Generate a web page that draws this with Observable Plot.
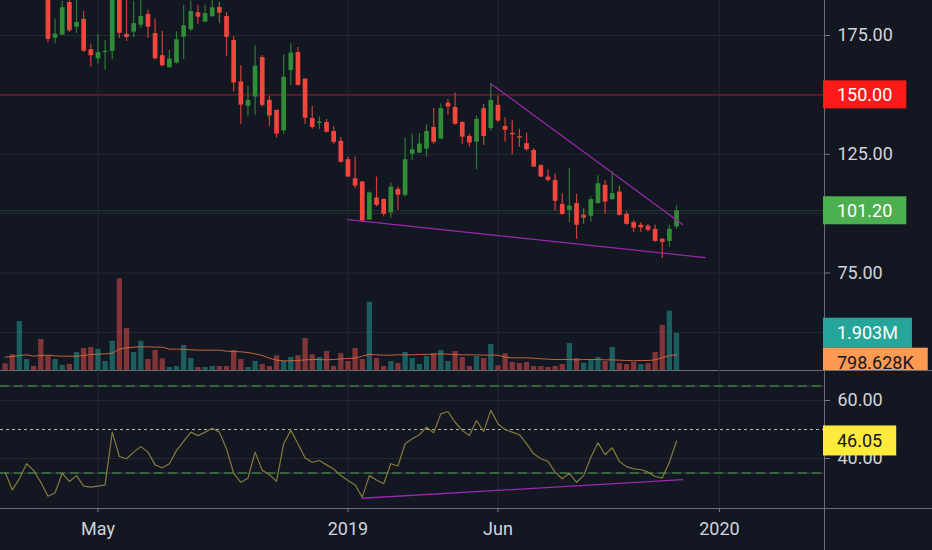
<!DOCTYPE html>
<html><head><meta charset="utf-8">
<script src="https://cdn.jsdelivr.net/npm/d3@7"></script>
<script src="https://cdn.jsdelivr.net/npm/@observablehq/plot@0.6"></script>
<style>
html,body{margin:0;padding:0;background:#131722;}
#chart{position:relative;width:932px;height:550px;background:#131722;overflow:hidden;}
#chart svg{position:absolute;left:0;}
.sep{position:absolute;background:#6a6d78;}
</style></head><body><div id="chart"></div>
<script>
// ---- data (weekly candles, first week 2018-02-05) ----
const firstWeek = "2018-02-05";
const open  = [214,206,198,205,208,203,195,173.9,175.2,188.9,178.5,181.8,169.0,165.2,167.8,168.3,193,175.5,176.4,179.3,183.9,175.8,166.5,161.4,163.4,174.3,177.4,184.6,180.6,182.9,186.8,183.0,172.9,155.4,145.2,149.1,165.7,147.7,143.5,134.8,160.2,167.8,156.6,140.1,138.0,138.4,134.6,130.4,122.7,114.7,113.3,97.3,106.6,106.0,100.3,110.2,107.7,125.0,125.5,127.2,136.3,131.4,146.5,144.7,138.4,132.5,130.1,144.2,135.8,145.6,136.7,133.8,132.4,129.5,126.6,120.2,115.4,114.0,103.9,101.4,104.2,99.3,98.9,104.2,111.9,105.9,109.1,99.7,96.2,95.1,94.7,93.4,89.2,88.3,94.4];
const high  = [218,208,207,211,210,204,197,181.8,189.4,189.6,191,185.1,171.3,175.5,172.9,195,196,190.5,189.4,190,185.6,181.8,176.7,168.7,176.6,187.7,189.4,187.7,187.7,190.5,189.1,184.6,174.6,162.3,153.6,170.7,166.6,149.4,143.5,166.9,171.5,169.9,156.8,145.2,140.7,139.7,136.7,132.1,123.8,123.8,113.5,109.1,115.4,106.2,112.9,111.2,132.0,133.4,133.7,137.5,144.2,146.3,148.1,150.8,138.6,133.4,141.1,146.0,154.7,149.4,140.4,139.3,135.5,133.9,127.4,120.6,118.5,116.8,108.4,118.9,108.1,102.1,107.0,116.0,114.0,117.5,111.5,100.7,97.2,96.2,95.4,95.1,89.5,95.1,103.2];
const low   = [203,196,196,202,201,192,172,171.5,174.9,176.3,175.8,167.9,161.7,163.0,160.4,164.8,173.7,172.5,174.2,177.9,173.7,164.8,161.7,161.3,163.0,164.8,176.7,179.7,180.6,182.7,180.2,166.1,151.2,137.6,141.0,141.4,144.9,136.7,131.8,133.4,153.9,153.7,137.6,135.5,135.4,133.9,129.2,121.2,115.3,110.5,96.2,97.1,102.8,98.6,98.1,101.4,107.0,122.4,125.3,123.8,129.2,131.1,141.4,137.2,129.2,128.0,118.5,128.7,134.8,138.3,130.1,124.8,127.8,126.3,119.4,115.2,113.3,101.1,99.3,96.2,89.2,95.5,96.5,103.9,99.7,105.6,99.0,95.1,92.0,92.0,92.3,88.0,81.1,86.0,93.4];
const close = [206,198,205,208,203,195,173.4,175.6,186.7,177.0,180.5,168.4,166.5,167.8,168.3,192,175.9,174.2,180.0,183.0,178.5,165.2,162.3,165.1,173.2,179.1,185.1,182.7,184.2,186.7,184.4,174.2,155.0,145.7,147.7,162.1,145.6,141.1,133.5,157.4,167.6,154.0,140.2,136.3,138.6,134.3,130.0,121.6,115.4,111.6,96.8,108.7,103.5,99.7,111.2,107.8,122.7,126.9,129.3,134.6,130.0,144.2,144.9,137.6,132.2,129.7,139.7,132.5,147.7,139.0,135.1,133.2,131.8,126.9,119.6,115.4,114.0,105.2,99.7,103.2,95.1,98.1,105.9,112.6,104.9,108.4,99.3,95.5,93.9,94.0,93.0,88.3,87.9,93.4,101.2];
const volume = [342,801,2500,561,204,1582,714,561,255,306,918,1122,1173,1071,459,1495,4679,2143,918,1495,561,1020,597,153,204,1276,612,153,153,204,204,204,1020,561,153,459,306,204,750,459,663,750,1633,801,663,969,204,852,459,1122,561,3485,612,204,459,357,918,612,306,714,852,1020,459,969,663,204,714,612,1327,240,852,408,357,408,204,204,153,204,306,1378,612,372,510,663,459,1173,357,306,408,306,342,918,2296,3026,1903].map(v => v * 1000);
const volumeMA = [680,714,765,799,731,765,782,748,731,731,731,765,816,833,850,884,1088,1156,1190,1207,1207,1190,1190,1088,1088,1088,1054,1037,1037,1037,1037,986,969,952,918,850,765,629,527,493,493,510,544,561,561,544,561,595,612,629,731,833,799,782,782,799,799,799,816,816,833,850,833,816,799,799,799,782,782,782,680,646,646,646,629,595,578,561,561,561,544,561,561,561,544,544,527,510,493,510,510,544,646,765,798.628].map(v => v * 1000);
const rsi = [35.3,29.2,33.0,38.2,35.9,31.8,27.0,28.2,34.9,32.1,34.1,30.5,30.1,30.5,30.9,49.1,40.7,39.9,42.2,44.1,42.2,37.8,36.8,38.2,42.8,45.9,49.1,47.9,49.1,50.4,49.1,43.3,34.9,31.8,33.2,42.2,35.9,34.5,32.1,45.1,49.7,45.1,40.2,38.7,39.3,37.8,36.4,34.1,32.4,30.9,26.7,34.1,32.6,31.3,38.2,37.4,45.1,46.8,48.2,50.8,48.9,55.4,56.2,52.5,49.7,47.9,53.1,49.3,56.6,52.0,49.9,49.1,48.2,45.1,41.6,39.9,39.0,35.3,33.0,34.9,31.8,34.1,40.4,45.4,41.3,43.7,39.0,37.2,36.4,36.2,35.3,33.8,33.3,38.7,46.05];

const upperTrendDates = ["2019-05-27", "2019-12-01"], upperTrendValues = [154.7, 95.4];
const lowerTrendDates = ["2019-01-07", "2019-12-23"], lowerTrendValues = [97.5, 81.5];
const rsiTrendDates   = ["2019-01-21", "2019-12-01"], rsiTrendValues   = [26.3, 32.7];
const alertLevel = 150;

const tickDates  = ["2018-05-07", "2019-01-07", "2019-06-03", "2020-01-06"];
const tickLabels = ["May", "2019", "Jun", "2020"];
const priceTicks = [75, 100, 125, 150, 175];
const priceHiddenTicks = [100, 150];   // covered by the value labels
const priceGrid  = [50, 75, 100, 125, 150, 175];
const rsiTicks   = [40, 60];
const rsiBands   = [35, 65];
const rsiMid     = 50;

// ---- derived tables ----
const DAY = 864e5;
const t0 = new Date(firstWeek + "T00:00:00Z");
const candles = open.map((o, i) => ({
  date: new Date(+t0 + i * 7 * DAY),
  open: o, high: high[i], low: low[i], close: close[i],
  volume: volume[i], volMA: volumeMA[i], rsi: rsi[i],
  up: close[i] >= o,
  volUp: i === 0 ? close[i] >= o : close[i] >= close[i - 1]
}));
const pairs = (ds, vs) => ds.map((d, i) => ({date: new Date(d + "T00:00:00Z"), value: vs[i]}));
const upperTrend = pairs(upperTrendDates, upperTrendValues);
const lowerTrend = pairs(lowerTrendDates, lowerTrendValues);
const rsiTrend = pairs(rsiTrendDates, rsiTrendValues);
const ticks = tickDates.map(d => new Date(d + "T00:00:00Z"));
const tickLabelOf = new Map(ticks.map((d, i) => [+d, tickLabels[i]]));

// ---- styling ----
const GRID = "#242833", TEXT = "#d1d4dc", TICK = "#787b86";
const UP = "#318c37", DOWN = "#f2453b", VUP = "#26a69a", VDOWN = "#ef5350";
const FONT = "Roboto, 'Liberation Sans', sans-serif";
const W = 932, PANE_RIGHT = 108;
const xDomain = [new Date("2018-01-31T12:00:00Z"), new Date("2020-04-18T00:00:00Z")];
const baseStyle = {background: "transparent", color: TEXT, fontFamily: FONT, fontSize: "18px", overflow: "visible"};

const chart = document.getElementById("chart");
// pane separators (below the plot layers)
[["0px","370px","932px","1px"], ["0px","508px","932px","1px"], ["824px","0px","1px","550px"]].forEach(([l,t,w,h]) => {
  const d = document.createElement("div"); d.className = "sep";
  Object.assign(d.style, {left: l, top: t, width: w, height: h}); chart.appendChild(d);
});
function place(svg, top) { svg.style.top = top + "px"; chart.appendChild(svg); return svg; }

const priceY = {domain: [33.53, 189.74]};
const xOpt = {type: "utc", domain: xDomain, axis: null};

// layer 1: price-pane grid
const gridSvg = Plot.plot({
  width: W, height: 371, marginLeft: 0, marginRight: PANE_RIGHT, marginTop: 0, marginBottom: 0,
  x: xOpt, y: {...priceY, axis: null}, style: baseStyle,
  marks: [
    Plot.ruleY(priceGrid, {stroke: GRID}),
    Plot.ruleX(ticks, {stroke: GRID})
  ]
});
place(gridSvg, 0);

// layer 2: volume
const volSvg = Plot.plot({
  width: W, height: 371, marginLeft: 0, marginRight: PANE_RIGHT, marginTop: 0, marginBottom: 1,
  x: xOpt, y: {domain: [0, 18.878e6], axis: null}, color: {type: "identity"}, style: baseStyle,
  marks: [
    Plot.ruleX(candles, {x: "date", y1: 0, y2: "volume", stroke: d => d.volUp ? VUP : VDOWN, strokeOpacity: 0.5, strokeWidth: 5.3}),
    Plot.line(candles, {x: "date", y: "volMA", stroke: "#d66a3e", strokeWidth: 1, strokeOpacity: 0.9})
  ]
});
place(volSvg, 0);

// layer 3: candles, lines, price axis
const priceSvg = Plot.plot({
  width: W, height: 371, marginLeft: 0, marginRight: PANE_RIGHT, marginTop: 0, marginBottom: 0,
  x: xOpt, y: priceY, color: {type: "identity"}, style: baseStyle,
  marks: [
    Plot.ruleY([alertLevel], {stroke: "#8c1f22", strokeWidth: 1}),
    Plot.ruleY([close[close.length - 1]], {stroke: "#4caf50", strokeOpacity: 0.25}),
    Plot.ruleX(candles, {x: "date", y1: "low", y2: "high", stroke: d => d.up ? UP : DOWN, strokeWidth: 1.2, strokeOpacity: 0.85, clip: true}),
    Plot.ruleX(candles, {x: "date", y1: "open", y2: "close", stroke: d => d.up ? UP : DOWN, strokeWidth: 4.7, clip: true}),
    Plot.line(upperTrend, {x: "date", y: "value", stroke: "#9c27b0", strokeWidth: 1.2}),
    Plot.line(lowerTrend, {x: "date", y: "value", stroke: "#9c27b0", strokeWidth: 1.2}),
    Plot.axisY(priceTicks, {anchor: "right", tickSize: 5, tickPadding: 8,
      tickFormat: d => priceHiddenTicks.includes(d) ? "" : d.toFixed(2), stroke: TICK, fill: TEXT, fontSize: 18})
  ]
});
place(priceSvg, 0);

// layer 4: RSI pane + time axis
const rsiSvg = Plot.plot({
  width: W, height: 179, marginLeft: 0, marginRight: PANE_RIGHT, marginTop: 0, marginBottom: 42,
  x: {type: "utc", domain: xDomain}, y: {domain: [22.76, 70]}, style: baseStyle,
  marks: [
    Plot.ruleY(rsiTicks, {stroke: GRID}),
    Plot.ruleX(ticks, {stroke: GRID}),
    Plot.ruleY(rsiBands, {stroke: "#3a3e48"}),
    Plot.ruleY(rsiBands, {stroke: "#43a047", strokeDasharray: "9,5"}),
    Plot.ruleY([rsiMid], {stroke: "#c5d6c5", strokeDasharray: "3,3", strokeOpacity: 0.85}),
    Plot.line(candles, {x: "date", y: "rsi", stroke: "#857b3d", strokeWidth: 1.2}),
    Plot.line(rsiTrend, {x: "date", y: "value", stroke: "#9c27b0", strokeWidth: 1.3}),
    Plot.axisY(rsiTicks, {anchor: "right", tickSize: 5, tickPadding: 8, tickFormat: d => d.toFixed(2), stroke: TICK, fill: TEXT, fontSize: 18}),
    Plot.axisX(ticks, {anchor: "bottom", tickSize: 4, tickPadding: 10, tickFormat: d => tickLabelOf.get(+d), stroke: TICK, fill: TEXT, fontSize: 18})
  ]
});
place(rsiSvg, 371);

// value labels on the right scale
function addLabel(svg, y, text, bg, fg, h, clipBottom) {
  const g = d3.select(svg).append("g").attr("text-anchor", "start");
  const t = g.append("text").attr("x", 837).attr("y", y).attr("dy", "0.36em").attr("text-anchor", "start")
    .attr("fill", fg).style("font-size", "18px").style("font-family", FONT).text(text);
  const w = t.node().getComputedTextLength();
  const top = y - h / 2;
  let hh = h;
  if (clipBottom != null && top + hh > clipBottom) hh = clipBottom - top;
  g.insert("rect", "text").attr("x", 823).attr("y", top).attr("width", w + 28).attr("height", hh).attr("fill", bg);
  return top + hh;
}
const py = v => priceSvg.scale("y").apply(v);
const vy = v => volSvg.scale("y").apply(v);
const ry = v => rsiSvg.scale("y").apply(v);
addLabel(priceSvg, py(alertLevel), alertLevel.toFixed(2), "#ff1a1a", "#ffffff", 28);
addLabel(priceSvg, py(close[close.length - 1]), close[close.length - 1].toFixed(2), "#4caf50", "#ffffff", 28);
const lastVol = volume[volume.length - 1], lastMA = volumeMA[volumeMA.length - 1];
const volBottom = addLabel(volSvg, vy(lastVol), (lastVol / 1e6).toFixed(3) + "M", "#26a69a", "#ffffff", 30);
const maY = Math.max(vy(lastMA), volBottom + 15);
addLabel(volSvg, maY, (lastMA / 1e3).toFixed(3) + "K", "#ff9a52", "#131722", 30, 370);
addLabel(rsiSvg, ry(rsi[rsi.length - 1]), rsi[rsi.length - 1].toFixed(2), "#ffeb3b", "#131722", 30);
</script></body></html>
